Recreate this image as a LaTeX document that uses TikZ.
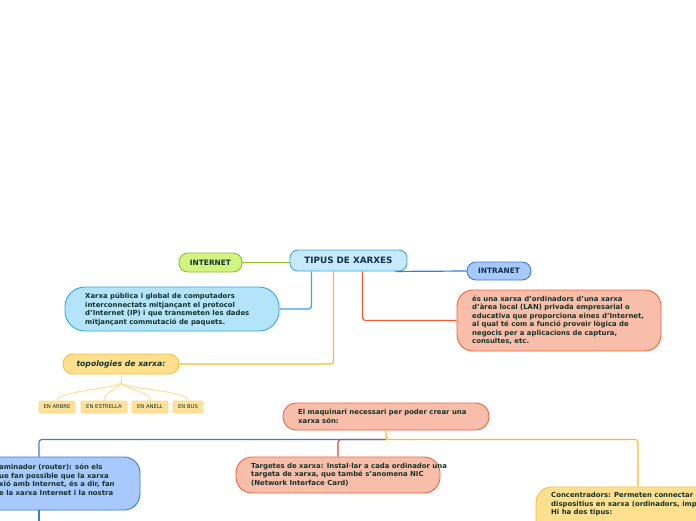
\documentclass[tikz,border=0pt]{standalone}
\usepackage{fontspec}
\setmainfont{DejaVu Sans}
\usetikzlibrary{calc}
\definecolor{txt}{HTML}{12332A}
\definecolor{navy}{HTML}{12304F}
\definecolor{tipfill}{HTML}{C6EAFB}
\definecolor{tipdraw}{HTML}{45A3DC}
\definecolor{netfill}{HTML}{D4F482}
\definecolor{netdraw}{HTML}{8CBF26}
\definecolor{trafill}{HTML}{A8C9FB}
\definecolor{tradraw}{HTML}{3B7CD6}
\definecolor{difill}{HTML}{B4E4FA}
\definecolor{didraw}{HTML}{2DAAE1}
\definecolor{redfill}{HTML}{F9BEA9}
\definecolor{reddraw}{HTML}{EF6441}
\definecolor{redline}{HTML}{EE5B32}
\definecolor{busred}{HTML}{C6523F}
\definecolor{yelfill}{HTML}{FFE08E}
\definecolor{yeldraw}{HTML}{F9BF3A}
\definecolor{yelline}{HTML}{FBBA2D}
\definecolor{chfill}{HTML}{FFE19A}
\definecolor{chdraw}{HTML}{FDD88A}
\definecolor{chline}{HTML}{FCDF95}
\begin{document}
\begin{tikzpicture}[x=1pt,y=-1pt,
  box/.style={draw, line width=0.9pt, inner sep=0pt},
  body/.style={inner sep=0pt, text=txt, align=left, anchor=west,
    font=\bfseries\fontsize{6.9}{8.5}\selectfont},
  tag/.style={draw, line width=0.9pt, inner sep=0pt, align=center,
    font=\bfseries\fontsize{7.4}{8}\selectfont},
  child/.style={draw=chdraw, fill=chfill, line width=0.8pt, inner sep=0pt,
    rounded corners=2, minimum height=12, text=txt,
    font=\fontsize{5.3}{6}\selectfont},
  conn/.style={line width=1.2pt, rounded corners=3},
  curve/.style={line width=1pt, draw=chline}]
\useasboundingbox (0,0) rectangle (696,520);
\clip (0,0) rectangle (696,520);
% nodes
\node[tag, fill=tipfill, draw=tipdraw, rounded corners=8, minimum width=117, minimum height=21,
  font=\bfseries\fontsize{8.8}{9}\selectfont, text=navy] (tipus) at (348.5,260.5) {TIPUS DE XARXES};
\node[tag, fill=netfill, draw=netdraw, rounded corners=9, minimum width=63, minimum height=19,
  text=txt] (internet) at (210.5,262.5) {INTERNET};
\node[tag, fill=trafill, draw=tradraw, rounded corners=9, minimum width=64, minimum height=18,
  text=navy] (intranet) at (499,271) {INTRANET};
\node[box, fill=difill, draw=didraw, rounded corners=20, minimum width=214, minimum height=44] (descint) at (172,309) {};
\node[body] (descinttxt) at (85,309.5) {Xarxa pública i global de computadors\\interconnectats mitjançant el protocol\\d’Internet (IP) i que transmeten les dades\\mitjançant commutació de paquets.};
\node[box, fill=redfill, draw=reddraw, rounded corners=16, minimum width=204, minimum height=61] (desctra) at (559,320.5) {};
\node[body] (desctratxt) at (472,320.2) {és una xarxa d’ordinadors d’una xarxa\\d’àrea local (LAN) privada empresarial o\\educativa que proporciona eines d’Internet,\\al qual té com a funció proveir lògica de\\negocis per a aplicacions de captura,\\consultes, etc.};
\node[tag, fill=yelfill, draw=yeldraw, rounded corners=10, minimum width=116, minimum height=20,
  text=txt, font=\bfseries\itshape\fontsize{7.7}{8}\selectfont] (topo) at (121,364) {topologies de xarxa:};
\node[child, minimum width=36] (arbre) at (57,407) {EN ARBRE};
\node[child, minimum width=46] (estrella) at (104,407) {EN ESTRELLA};
\node[child, minimum width=36] (anell) at (150,407) {EN ANELL};
\node[child, minimum width=30] (bus) at (188,407) {EN BUS};
\node[box, fill=redfill, draw=reddraw, rounded corners=13, minimum width=206, minimum height=27] (maq) at (386,416.5) {};
\node[body] (maqtxt) at (298,416.3) {El maquinari necessari per poder crear una\\xarxa són:};
\node[box, fill=trafill, draw=tradraw, rounded corners=16, minimum width=202, minimum height=53] (router) at (39,483.5) {};
\node[body] (routertxt) at (-1,480) {aminador (router): són els\\ue fan possible que la xarxa\\xió amb Internet, és a dir, fan\\e la xarxa Internet i la nostra};
\node[box, fill=redfill, draw=reddraw, rounded corners=16, minimum width=204, minimum height=36] (targ) at (338,475) {};
\node[body] (targtxt) at (251,474.5) {Targetes de xarxa: Instal·lar a cada ordinador una\\targeta de xarxa, que també s’anomena NIC\\(Network Interface Card)};
\node[box, fill=yelfill, draw=yeldraw, rounded corners=16, minimum width=204, minimum height=53] (conc) at (638,513.5) {};
\node[body] (conctxt) at (551,504.5) {Concentradors: Permeten connectar diverso\\dispositius en xarxa (ordinadors, impresso\\Hi ha dos tipus:};
% connectors
\draw[conn, draw=netdraw] (internet.east) -- (internet.east -| tipus.west);
\draw[conn, draw=tradraw] ($(tipus.south east)+(-12,0)$) -- (intranet.west);
\draw[conn, draw=didraw] ($(tipus.south west)+(22,0)$) |- (descint.east);
\draw[conn, draw=yelline] ($(tipus.south west)+(44,0)$) |- (topo.east);
\draw[conn, draw=redline] ($(tipus.south west)+(73,0)$) |- (desctra.west);
\coordinate (stem) at ($(topo.south)+(0,8)$);
\draw[curve] (topo.south) -- (stem);
\foreach \c in {arbre,estrella,anell,bus}
  \draw[curve] (stem) .. controls ($(stem)+(0,6)$) and ($(\c.north)+(0,-10)$) .. (\c.north);
\coordinate (busj) at ($(maq.south)+(0,9)$);
\draw[conn, draw=tradraw] (busj) -| (router.north);
\draw[conn, draw=yelline] (maq.south) -- (busj) -| (conc.north);
\draw[conn, draw=busred] (busj) -| (targ.north);
\coordinate (routerdown) at ($(router.south)+(0,15)$);
\draw[conn, draw=tradraw] (router.south) -- (routerdown);
\end{tikzpicture}
\end{document}
